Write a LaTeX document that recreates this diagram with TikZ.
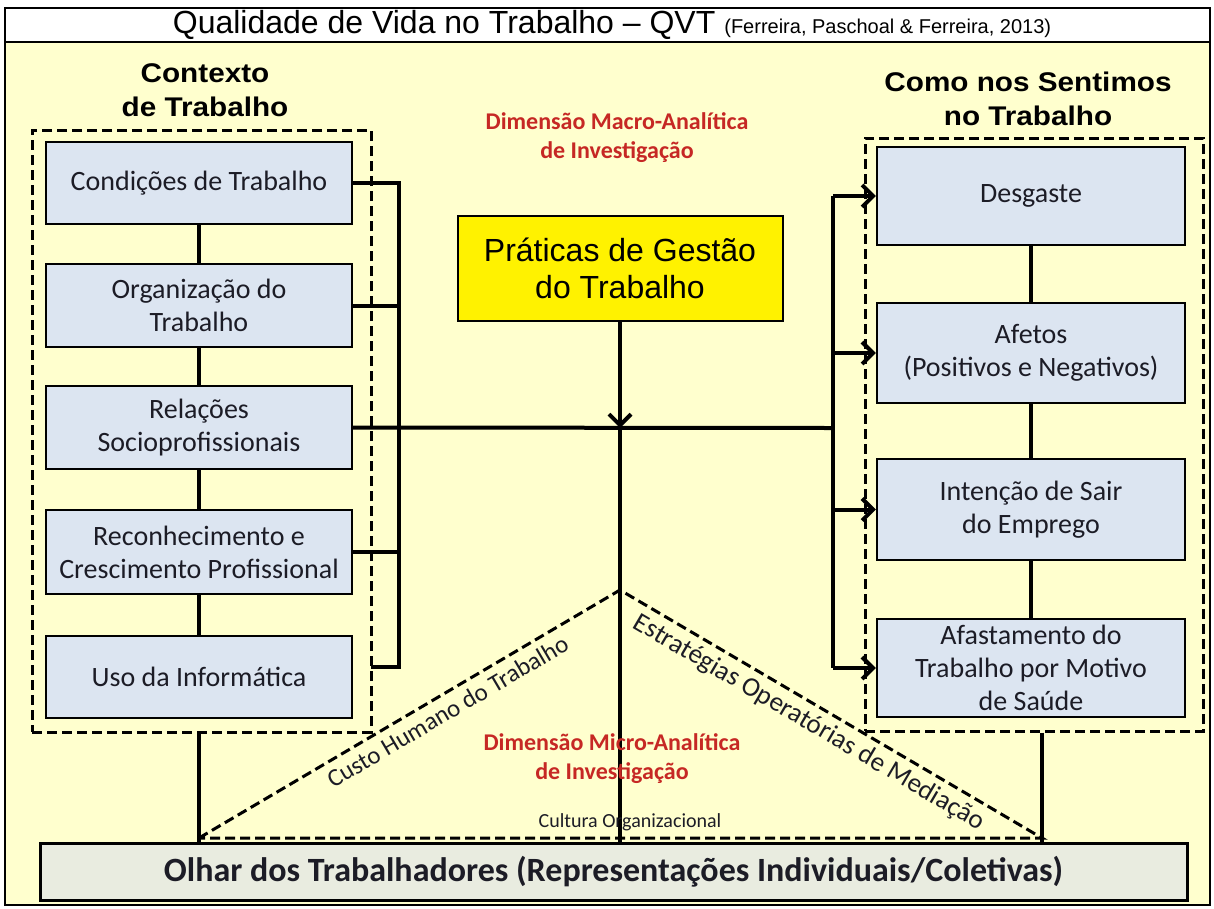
\documentclass[tikz,border=0pt]{standalone}
\usepackage{fontspec}
\setmainfont{Carlito}
\newfontfamily\arialf{Liberation Sans}
\newfontfamily\headf{Liberation Sans Bold}[FakeStretch=1.1]
\usetikzlibrary{arrows.meta}
\definecolor{bgyellow}{RGB}{255,255,206}
\definecolor{boxblue}{RGB}{220,229,241}
\definecolor{olhargray}{RGB}{233,236,224}
\definecolor{redlab}{RGB}{198,40,36}
\definecolor{txtdark}{RGB}{28,28,38}
\tikzset{
  cbox/.style={draw=black, line width=2.2pt, fill=boxblue, text=txtdark, align=center,
    font=\fontsize{28}{33}\selectfont, inner sep=0pt},
  lbox/.style={cbox, minimum width=306pt},
  rbox/.style={cbox, minimum width=308pt},
  dashbox/.style={draw=black, line width=3pt, dash pattern=on 10pt off 5pt, inner sep=0pt},
  dashline/.style={line width=3pt, dash pattern=on 10pt off 5pt},
  conn/.style={line width=4pt},
  barb/.style={-{Straight Barb[length=11pt,width=22pt,line width=4pt]}},
  arr/.style={line width=4pt, barb},
  heading/.style={font=\headf\fontsize{27}{34}\selectfont, align=center},
  redlbl/.style={font=\bfseries\fontsize{24}{29}\selectfont, text=redlab, align=center},
  slopelbl/.style={sloped, text=txtdark, inner sep=0pt},
}
\begin{document}
\begin{tikzpicture}[x=1pt,y=-1pt]
\useasboundingbox (0,0) rectangle (1214,908);
\fill[white] (0,0) rectangle (1214,908);
% frame
\draw[fill=bgyellow, line width=2pt] (5,42) rectangle (1210,905);
\draw[fill=white, line width=2.5pt] (5,8) rectangle (1210,42);
\node (title) at (612,25) {\arialf\fontsize{32}{32}\selectfont Qualidade de Vida no Trabalho – QVT \fontsize{20}{20}\selectfont(Ferreira, Paschoal \& Ferreira, 2013)};

% headings
\node[heading] (hleft) at (205,90) {Contexto\\de Trabalho};
\node[heading] (hright) at (1028,99) {Como nos Sentimos\\no Trabalho};
\node[redlbl] (macro) at (617,138) {Dimensão Macro-Analítica\\de Investigação};

% dashed containers
\node[dashbox, minimum width=339pt, minimum height=602pt] (LD) at (201.5,431) {};
\node[dashbox, minimum width=338pt, minimum height=593pt] (RD) at (1034,434.5) {};

% triangle
\coordinate (apex) at (620,590);
\coordinate (tl) at (199,838);
\coordinate (tr) at (1042,838);
\draw[dashline] (tl) -- (apex) -- (tr) -- cycle;

% left boxes
\node[lbox, minimum height=82pt] (c1) at (199,183) {Condições de Trabalho};
\node[lbox, minimum height=83pt] (c2) at (199,305.5) {Organização do\\Trabalho};
\node[lbox, minimum height=83pt] (c3) at (199,427.5) {Relações\\Socioprofissionais};
\node[lbox, minimum height=84pt] (c4) at (199,552) {Reconhecimento e\\Crescimento Profissional};
\node[lbox, minimum height=82pt] (c5) at (199,677) {Uso da Informática};

% right boxes
\node[rbox, minimum height=98pt] (r1) at (1031,196) {Desgaste};
\node[rbox, minimum height=100pt] (r2) at (1031,353) {Afetos\\(Positivos e Negativos)};
\node[rbox, minimum height=101pt] (r3) at (1031,509.5) {Intenção de Sair\\do Emprego};
\node[rbox, minimum height=98pt] (r4) at (1031,668) {Afastamento do\\Trabalho por Motivo\\de Saúde};

% central box
\node[draw=black, line width=2pt, fill=yellow, minimum width=325pt, minimum height=105pt,
      align=center, font=\arialf\fontsize{32}{37}\selectfont, text=black] (p) at (620,268) {Práticas de Gestão\\do Trabalho};

% bottom box
\node[draw=black, line width=3pt, fill=olhargray, minimum width=1147pt, minimum height=57pt,
      font=\bfseries\fontsize{34}{34}\selectfont, text=txtdark] (o) at (613.5,871.5) {Olhar dos Trabalhadores (Representações Individuais/Coletivas)};

% connectors left
\draw[conn] (c1) -- (c2);
\draw[conn] (c2) -- (c3);
\draw[conn] (c3) -- (c4);
\draw[conn] (c4) -- (c5);
\coordinate (lb) at (399,428);
\coordinate (stub) at (371,667);
\draw[conn] (c1.east) -- (lb |- c1.east) -- (lb |- stub) -- (stub);
\draw[conn] (c2.east) -- (lb |- c2.east);
\draw[conn] (c4.east) -- (lb |- c4.east);

% right connectors
\draw[conn] (r1) -- (r2);
\draw[conn] (r2) -- (r3);
\draw[conn] (r3) -- (r4);
\coordinate (rb) at (833,428);
\draw[conn] (c3.east) -- (rb);
\draw[conn] (rb |- r1.west) -- (rb |- r4.west);
\draw[arr] (rb |- r1.west) -- (r1.west);
\draw[arr] (rb |- r2.west) -- (r2.west);
\draw[arr] (rb |- r3.west) -- (r3.west);
\draw[arr] (rb |- r4.west) -- (r4.west);

% central
\coordinate (pc) at (620,428);
\draw[line width=3.5pt, barb] (p.south) -- (pc);
\draw[line width=3.5pt] (pc) -- (pc |- o.north);

% bottom verticals
\draw[line width=3.5pt] (c5.south |- LD.south) -- (c5.south |- o.north);
\coordinate (rx) at (1042,0);
\draw[line width=3.5pt] (RD.south -| rx) -- (rx |- o.north);

% triangle labels
\path (tl) -- node[slopelbl, below=8pt, pos=0.57, font=\fontsize{25}{25}\selectfont] (custo) {Custo Humano do Trabalho} (apex);
\path (apex) -- node[slopelbl, below=7pt, pos=0.47, font=\fontsize{27}{27}\selectfont] (estr) {Estratégias Operatórias de Mediação} (tr);

\node[redlbl] (micro) at (612,759) {Dimensão Micro-Analítica\\de Investigação};
\node[font=\fontsize{20}{20}\selectfont, text=txtdark] (cult) at (630,822) {Cultura Organizacional};
\end{tikzpicture}
\end{document}
